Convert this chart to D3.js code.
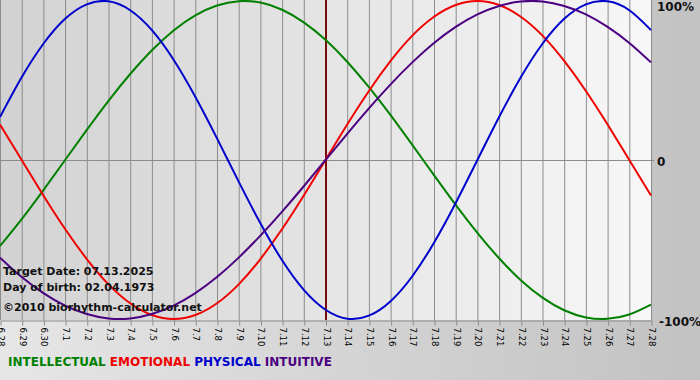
<!DOCTYPE html>
<html>
<head>
<meta charset="utf-8">
<script src="https://cdn.jsdelivr.net/npm/d3@7"></script>
<style>
  body { margin: 0; background: #d0d0d0; }
  svg { display: block; font-family: "DejaVu Sans", Verdana, sans-serif; }
</style>
</head>
<body>
<div id="chart"></div>
<script>
'use strict';

// Days shown on the x axis (month.day)
var days = ['6.28', '6.29', '6.30', '7.1', '7.2', '7.3', '7.4', '7.5', '7.6', '7.7', '7.8',
  '7.9', '7.10', '7.11', '7.12', '7.13', '7.14', '7.15', '7.16', '7.17', '7.18', '7.19',
  '7.20', '7.21', '7.22', '7.23', '7.24', '7.25', '7.26', '7.27', '7.28'];

// Series values, -1 .. 1
var physical = [0.270, 0.520, 0.731, 0.888, 0.979, 0.998, 0.942, 0.817, 0.631, 0.398, 0.136,
  -0.136, -0.398, -0.631, -0.817, -0.942, -0.998, -0.979, -0.888, -0.731, -0.520, -0.270,
  0.000, 0.270, 0.520, 0.731, 0.888, 0.979, 0.998, 0.942, 0.817];
var emotional = [0.223, 0.000, -0.223, -0.434, -0.623, -0.782, -0.901, -0.975, -1.000, -0.975, -0.901,
  -0.782, -0.623, -0.434, -0.223, 0.000, 0.223, 0.434, 0.623, 0.782, 0.901, 0.975,
  1.000, 0.975, 0.901, 0.782, 0.623, 0.434, 0.223, 0.000, -0.223];
var intellectual = [-0.541, -0.372, -0.189, 0.000, 0.189, 0.372, 0.541, 0.690, 0.815, 0.910, 0.972,
  0.999, 0.990, 0.945, 0.866, 0.756, 0.618, 0.458, 0.282, 0.095, -0.095, -0.282,
  -0.458, -0.618, -0.756, -0.866, -0.945, -0.990, -0.999, -0.972, -0.910];
var intuitive = [-0.614, -0.736, -0.837, -0.916, -0.969, -0.997, -0.997, -0.969, -0.916, -0.837, -0.736,
  -0.614, -0.476, -0.325, -0.165, 0.000, 0.165, 0.325, 0.476, 0.614, 0.736, 0.837,
  0.916, 0.969, 0.997, 0.997, 0.969, 0.916, 0.837, 0.736, 0.614];

var yTicks = [1, 0, -1];
var yTickLabels = ['100%', '0', '-100%'];
var targetDay = '7.13';
var infoLines = ['Target Date: 07.13.2025', 'Day of birth: 02.04.1973'];
var copyright = '\u00a92010 biorhythm-calculator.net';

var series = [
  {name: 'INTELLECTUAL', values: intellectual, color: '#008000'},
  {name: 'EMOTIONAL', values: emotional, color: '#f00000'},
  {name: 'PHYSICAL', values: physical, color: '#0000cc'},
  {name: 'INTUITIVE', values: intuitive, color: '#4b0082'}
];

var W = 700, H = 380;
var margin = {top: 0, right: 49, bottom: 60, left: 0};
var width = W - margin.left - margin.right;
var height = H - margin.top - margin.bottom;

var svg = d3.select('#chart').append('svg')
  .attr('width', W)
  .attr('height', H);

var defs = svg.append('defs');
var outerGrad = defs.append('linearGradient').attr('id', 'outerGrad')
  .attr('x1', 0).attr('y1', 0).attr('x2', 1).attr('y2', 0);
outerGrad.append('stop').attr('offset', '0%').attr('stop-color', '#e6e6e6');
outerGrad.append('stop').attr('offset', '100%').attr('stop-color', '#c2c2c2');

var plotGrad = defs.append('linearGradient').attr('id', 'plotGrad')
  .attr('x1', 0).attr('y1', 0).attr('x2', 1).attr('y2', 0);
plotGrad.append('stop').attr('offset', '0%').attr('stop-color', '#d2d2d2');
plotGrad.append('stop').attr('offset', '100%').attr('stop-color', '#f7f7f7');

svg.append('rect')
  .attr('width', W).attr('height', H)
  .attr('fill', 'url(#outerGrad)');

var g = svg.append('g')
  .attr('transform', 'translate(' + margin.left + ',' + margin.top + ')');

// Scales
var x = d3.scalePoint()
  .domain(days)
  .range([0, width]);

var y = d3.scaleLinear()
  .domain([-1, 1])
  .range([height - 1, 1]);

g.append('rect')
  .attr('width', width).attr('height', height)
  .attr('fill', 'url(#plotGrad)');

// Grid
g.selectAll('.vgrid')
  .data(days)
  .enter().append('line')
    .attr('class', 'vgrid')
    .attr('x1', function(d) { return x(d) + 0.5 })
    .attr('x2', function(d) { return x(d) + 0.5 })
    .attr('y1', 0)
    .attr('y2', height)
    .attr('stroke', '#8c8c8c')
    .attr('stroke-width', 1)

g.append('line')
  .attr('x1', 0).attr('x2', width + 3)
  .attr('y1', Math.round(y(0)) + 0.5).attr('y2', Math.round(y(0)) + 0.5)
  .attr('stroke', '#8c8c8c')

// X axis
var xAxis = d3.axisBottom(x)
  .tickSize(5)
  .tickSizeOuter(0)

var ax = g.append('g')
  .attr('class', 'axis axis--x')
  .attr('transform', 'translate(0.5,' + (height + 0.5) + ')')
  .call(xAxis)

ax.select('.domain').attr('stroke', '#8c8c8c')
ax.selectAll('.tick line').attr('stroke', '#8c8c8c')
ax.selectAll('.tick text')
  .attr('fill', '#000')
  .attr('font-size', '8.5px')
  .attr('font-family', '"DejaVu Sans", Verdana, sans-serif')
  .attr('text-anchor', 'start')
  .attr('transform', 'rotate(90)')
  .attr('x', 7)
  .attr('y', 0)
  .attr('dy', '0.35em')

// Y labels on the right
var yLabelShift = {'1': 6, '0': 2, '-1': 3};
g.selectAll('.ylabel')
  .data(yTicks)
  .enter().append('text')
    .attr('class', 'ylabel')
    .attr('x', function(d) { return d < 0 ? width + 8 : width + 6 })
    .attr('y', function(d) { return y(d) + yLabelShift[d] })
    .attr('dy', '0.35em')
    .attr('font-size', '12px')
    .attr('font-weight', 'bold')
    .attr('fill', '#111')
    .text(function(d, i) { return yTickLabels[i] })

// Target day marker
g.append('line')
  .attr('x1', x(targetDay) + 0.5).attr('x2', x(targetDay) + 0.5)
  .attr('y1', 0).attr('y2', height)
  .attr('stroke', '#7a0a0a')
  .attr('stroke-width', 2)

// Curves
var line = d3.line()
  .x(function(d, i) { return x(days[i]) })
  .y(function(d) { return y(d) })
  .curve(d3.curveNatural)

g.selectAll('.curve')
  .data(series)
  .enter().append('path')
    .attr('class', 'curve')
    .attr('fill', 'none')
    .attr('stroke', function(d) { return d.color })
    .attr('stroke-width', 2)
    .attr('stroke-linejoin', 'round')
    .attr('d', function(d) { return line(d.values) })

// Info text
g.selectAll('.info')
  .data(infoLines)
  .enter().append('text')
    .attr('class', 'info')
    .attr('x', 3)
    .attr('y', function(d, i) { return 275 + i * 16 })
    .attr('font-size', '11px')
    .attr('font-weight', 'bold')
    .attr('fill', '#111')
    .text(function(d) { return d })

g.append('text')
  .attr('x', 3)
  .attr('y', 311)
  .attr('font-size', '11px')
  .attr('font-weight', 'bold')
  .attr('fill', '#111')
  .text(copyright)

// Legend
var legend = svg.append('text')
  .attr('x', 8)
  .attr('y', 366)
  .attr('font-size', '12px')
  .attr('font-weight', 'bold')

legend.selectAll('tspan')
  .data(series)
  .enter().append('tspan')
    .attr('fill', function(d) { return d.color })
    .text(function(d, i) { return (i > 0 ? ' ' : '') + d.name })
</script>
</body>
</html>
